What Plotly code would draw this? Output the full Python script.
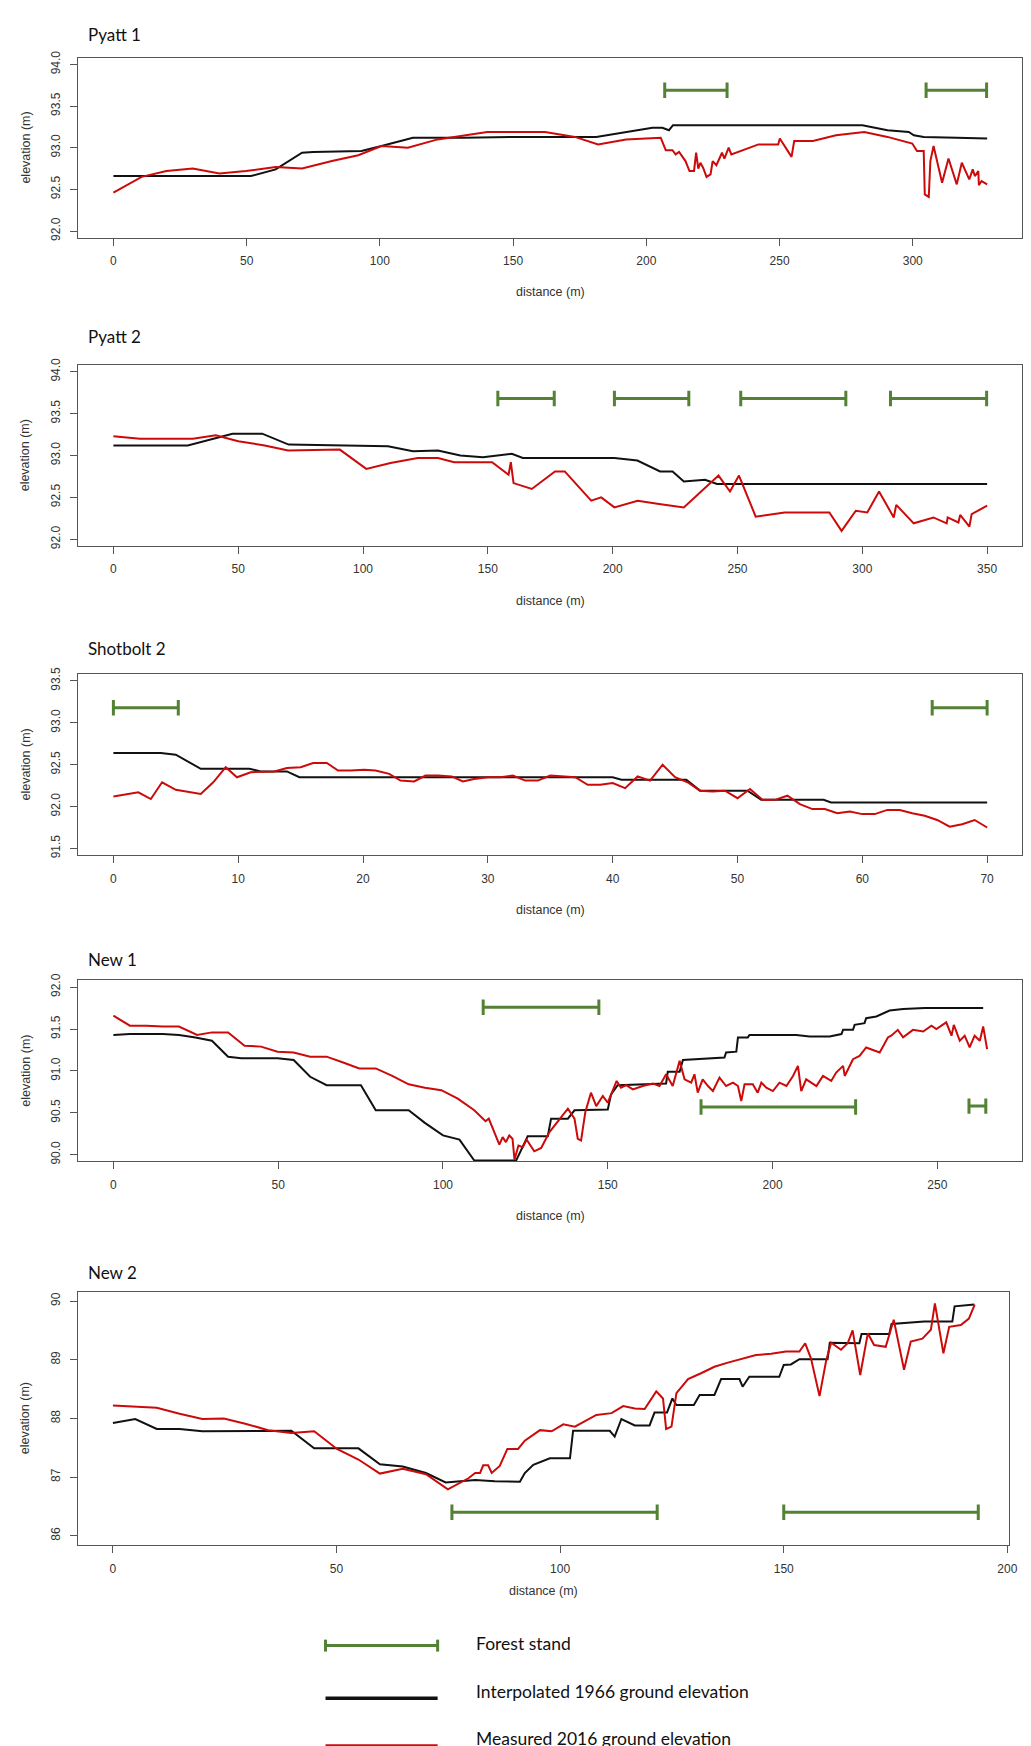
import plotly.graph_objects as go

# ---- data (distance m, elevation m) ----
pyatt1_x_1966 = [0, 51.6, 60.9, 70.8, 74.9, 93.1, 100.6, 112.4, 131.6, 153.9, 181.2, 202.3, 206, 208.5, 210,
                 281.1, 290.5, 298.5, 300.4, 304.1, 316.5, 327.9]
pyatt1_y_1966 = [92.66, 92.66, 92.74, 92.94, 92.95, 92.96, 93.02, 93.12, 93.12, 93.13, 93.13, 93.24, 93.24, 93.21, 93.27,
                 93.27, 93.21, 93.19, 93.15, 93.13, 93.12, 93.11]
pyatt1_x_2016 = [0, 10.6, 19.9, 29.8, 39.8, 49.7, 60.9, 70.8, 82, 91.9, 100.6, 110.5, 121.7, 131.6, 140.3, 162,
                 173.2, 181.9, 192.4, 205.4, 207.3, 209.8, 211, 212.3, 214.7, 216.2, 217.9, 218.7, 219.5, 220.3,
                 221.3, 222.6, 224.1, 224.9, 226.3, 228.4, 229.3, 230.9, 231.9, 242.1, 249.5, 250.1, 254.5, 255.5,
                 262.5, 271.2, 281.8, 290.5, 299.8, 301.6, 304.1, 304.5, 306, 306.6, 307.8, 311, 313.4, 316.5,
                 318.4, 321.2, 322.5, 323.3, 324.6, 324.8, 325.8, 327.9]
pyatt1_y_2016 = [92.46, 92.65, 92.72, 92.75, 92.69, 92.72, 92.77, 92.75, 92.84, 92.91, 93.02, 93.00, 93.10, 93.15,
                 93.19, 93.19, 93.13, 93.04, 93.10, 93.12, 92.97, 92.97, 92.92, 92.95, 92.84, 92.72, 92.72, 92.94,
                 92.75, 92.82, 92.76, 92.65, 92.68, 92.84, 92.79, 92.94, 92.87, 93.00, 92.92, 93.04, 93.04, 93.11,
                 92.89, 93.08, 93.08, 93.15, 93.19, 93.13, 93.05, 92.96, 92.96, 92.44, 92.41, 92.84, 93.02, 92.58,
                 92.87, 92.56, 92.82, 92.62, 92.74, 92.66, 92.72, 92.55, 92.60, 92.56]
pyatt1_stands = [(206.9, 230.3), (305, 327.7)]
pyatt1_stand_y = 93.69

pyatt2_x_1966 = [0, 29.8, 47.7, 59.6, 70.2, 100, 110, 120, 130, 139, 148, 159.6, 164, 200.7, 209.9, 219, 224,
                 228.5, 237, 241.8, 350]
pyatt2_y_1966 = [93.12, 93.12, 93.26, 93.26, 93.13, 93.12, 93.11, 93.05, 93.06, 93.00, 92.98, 93.02, 92.97, 92.97,
                 92.94, 92.81, 92.81, 92.69, 92.71, 92.66, 92.66]
pyatt2_x_2016 = [0, 10.6, 31.8, 41, 50, 60.6, 70, 90.7, 101.3, 111, 121.9, 130, 136.5, 151.7, 158.3, 159.2, 160.3,
                 167.6, 176.9, 180.8, 191.4, 195.4, 200.7, 210, 218.6, 228.5, 242.4, 247, 250.6, 257.3, 268.9,
                 286.8, 291.7, 297.4, 302, 306.7, 312.6, 313.6, 320.6, 328.5, 333.8, 334.2, 338.5, 339.2, 342.9,
                 343.8, 350]
pyatt2_y_2016 = [93.23, 93.20, 93.20, 93.24, 93.17, 93.12, 93.06, 93.07, 92.84, 92.91, 92.97, 92.97, 92.92, 92.92,
                 92.77, 92.92, 92.67, 92.60, 92.81, 92.81, 92.46, 92.50, 92.38, 92.46, 92.42, 92.38, 92.76, 92.57,
                 92.76, 92.27, 92.32, 92.32, 92.10, 92.34, 92.32, 92.57, 92.26, 92.41, 92.19, 92.26, 92.19, 92.26,
                 92.20, 92.29, 92.15, 92.30, 92.40]
pyatt2_stands = [(154, 176.6), (200.7, 230.5), (251.3, 293.4), (311.3, 349.8)]
pyatt2_stand_y = 93.68

shotbolt2_x_1966 = [0, 3.8, 5, 7, 10.9, 11.8, 13.9, 14.9, 40, 40.7, 45.9, 47, 50.8, 51.9, 56.9, 57.5, 70]
shotbolt2_y_1966 = [92.64, 92.64, 92.62, 92.45, 92.45, 92.42, 92.42, 92.35, 92.35, 92.32, 92.32, 92.19, 92.19,
                    92.08, 92.08, 92.05, 92.05]
shotbolt2_x_2016 = [0, 2, 3, 3.9, 5, 7, 8, 9, 9.9, 11, 12.9, 13.9, 15, 16, 17.1, 18, 19, 20.1, 21, 22.1, 23, 24.1,
                    25, 26, 27.1, 28, 28.9, 30, 31, 32, 33, 34, 35, 36, 37, 38, 39, 40, 41, 42, 43, 44, 45, 46, 47,
                    48, 49, 50, 51, 52, 53, 54, 55, 56, 57, 58, 59, 60, 61, 62, 63, 64, 65, 66, 67, 68, 69, 70]
shotbolt2_y_2016 = [92.12, 92.17, 92.09, 92.29, 92.20, 92.15, 92.29, 92.47, 92.35, 92.41, 92.42, 92.46, 92.47,
                    92.52, 92.52, 92.43, 92.43, 92.44, 92.43, 92.39, 92.31, 92.30, 92.37, 92.37, 92.36, 92.30,
                    92.33, 92.35, 92.35, 92.37, 92.31, 92.31, 92.37, 92.36, 92.35, 92.26, 92.26, 92.28, 92.22,
                    92.36, 92.31, 92.50, 92.35, 92.29, 92.19, 92.18, 92.19, 92.10, 92.21, 92.08, 92.08, 92.13,
                    92.03, 91.97, 91.97, 91.92, 91.94, 91.91, 91.91, 91.96, 91.96, 91.92, 91.89, 91.84, 91.76,
                    91.79, 91.84, 91.75]
shotbolt2_stands = [(0, 5.2), (65.6, 70)]
shotbolt2_stand_y = 93.18

new1_x_1966 = [0, 5, 15, 19.9, 24.9, 29.9, 34.8, 38.8, 49.8, 54.7, 59.7, 64.7, 75.1, 79.6, 89.6, 94.5, 100, 105,
               109.5, 122.2, 125.7, 131.8, 132.8, 137.9, 139.9, 150, 151, 153, 167.7, 168.2, 171.8,
               172.8, 185.4, 185.9, 189, 189.5, 192.5, 193, 207.2, 211.2, 217.3, 220.9, 221.4, 224.4, 224.9,
               227.9, 228.4, 231.5, 235.5, 239.6, 246.2, 263.9]
new1_y_1966 = [91.43, 91.44, 91.44, 91.43, 91.40, 91.36, 91.17, 91.15, 91.15, 91.13, 90.93, 90.83, 90.83, 90.53,
               90.53, 90.38, 90.23, 90.18, 89.93, 89.93, 90.22, 90.22, 90.43, 90.43, 90.53, 90.54,
               90.72, 90.83, 90.85, 90.99, 90.99, 91.13, 91.16, 91.22, 91.23, 91.40, 91.40, 91.43, 91.43, 91.41,
               91.41, 91.44, 91.49, 91.49, 91.55, 91.57, 91.63, 91.65, 91.72, 91.74, 91.75, 91.75]
new1_x_2016 = [0, 5, 10, 15, 19.9, 25.4, 29.9, 34.8, 39.8, 44.8, 49.8, 54.7, 59.7, 64.7, 69.7, 74.6, 79.6, 84.6,
               89.6, 94.5, 99.5, 104.5, 109.5, 112.9, 113.9, 115.4, 117.1, 118.1, 119.1, 120.1, 121.1, 121.7,
               122.9, 124.2, 125.4, 127.7, 129.8, 132.3, 134.3, 137.9, 139.9, 140.9, 141.9, 143.2, 144.9, 146.5,
               148.5, 150, 152.7, 154, 155.6, 157.6, 160.6, 163.7, 165.7, 167.7, 169.7, 171.8, 173.3, 175.3,
               176.3, 177.3, 178.8, 180.4, 181.9, 183.9, 185.9, 188, 189.5, 190.5, 191.5, 194, 195.5, 196.6,
               198.1, 200.1, 202.1, 204.2, 206.2, 207.7, 208.7, 210.2, 213.3, 215.3, 217.8, 219.3, 221.4, 221.9,
               224.4, 226.4, 228.4, 232.5, 235, 236, 238, 239.6, 242.6, 245.7, 248.2, 249.7, 252.7, 254.3, 255,
               256.8, 258.3, 259.8, 261.3, 262.9, 263.9, 265.1]
new1_y_2016 = [91.66, 91.54, 91.54, 91.53, 91.53, 91.43, 91.46, 91.46, 91.30, 91.29, 91.23, 91.22, 91.17, 91.17,
               91.10, 91.03, 91.03, 90.94, 90.84, 90.80, 90.77, 90.67, 90.53, 90.40, 90.43, 90.29, 90.12, 90.21,
               90.15, 90.23, 90.19, 89.94, 90.11, 90.09, 90.18, 90.04, 90.08, 90.27, 90.37, 90.55, 90.43, 90.19,
               90.17, 90.51, 90.74, 90.58, 90.70, 90.62, 90.88, 90.80, 90.83, 90.78, 90.82, 90.85, 90.82, 90.96,
               90.82, 91.12, 90.90, 90.86, 90.96, 90.74, 90.90, 90.82, 90.76, 90.92, 90.82, 90.86, 90.82, 90.64,
               90.84, 90.84, 90.74, 90.86, 90.80, 90.76, 90.86, 90.82, 90.94, 91.06, 90.76, 90.90, 90.82, 90.94,
               90.88, 90.98, 91.06, 90.94, 91.14, 91.18, 91.28, 91.22, 91.40, 91.42, 91.49, 91.40, 91.49, 91.47,
               91.54, 91.50, 91.58, 91.42, 91.55, 91.36, 91.42, 91.28, 91.42, 91.36, 91.53, 91.26]
new1_stands = [(112.2, 147.3), (178.3, 225.2), (259.6, 264.7)]
new1_stand_y = [91.76, 90.57, 90.58]

new2_x_1966 = [0, 5, 9.8, 14.9, 20, 28.1, 39.9, 45, 54.9, 59.7, 64.8, 70, 74.4, 81, 85.4, 91, 92.1, 94, 97.7,
               102.2, 102.9, 111.1, 112.2, 113.7, 116.7, 120, 121.1, 123.9, 125.1, 126, 129.9, 131.2, 134.5, 136,
               140.1, 140.8, 142.3, 149, 150, 151.6, 153.5, 159.8, 160.3, 166.9, 167.4, 173.6, 174.1, 181.4,
               187.7, 188.2, 190.3, 192.6]
new2_y_1966 = [87.92, 87.99, 87.82, 87.82, 87.78, 87.78, 87.79, 87.49, 87.49, 87.22, 87.18, 87.07, 86.91, 86.95,
               86.93, 86.92, 87.07, 87.21, 87.32, 87.32, 87.79, 87.79, 87.69, 87.99, 87.88, 87.88, 88.10, 88.10,
               88.34, 88.23, 88.23, 88.40, 88.40, 88.67, 88.67, 88.54, 88.71, 88.71, 88.91, 88.92, 89.01, 89.01,
               89.29, 89.28, 89.44, 89.44, 89.61, 89.65, 89.65, 89.91, 89.93, 89.94]
new2_x_2016 = [0, 5, 9.8, 14.9, 20, 24.8, 29.6, 34.7, 39.9, 45, 50.1, 54.9, 59.7, 64.8, 70, 74.9, 79.5, 81, 82.1,
               82.8, 83.9, 84.7, 86.5, 88.2, 90.6, 92.1, 94, 95.5, 98.1, 100.7, 103.3, 105.5, 108.1, 111.5, 114.1,
               116.7, 118.9, 121.5, 123, 123.7, 124.9, 126, 128.6, 131.5, 134.5, 137.5, 140.5, 143.8, 147.2,
               150.5, 153.5, 154.8, 156.1, 158, 159.5, 160.6, 162.8, 164.3, 165.4, 167.1, 168.8, 170.2, 172.8,
               174.6, 176.9, 178.4, 181, 182.9, 183.8, 185.7, 187, 189.6, 191.4, 192.7]
new2_y_2016 = [88.22, 88.20, 88.18, 88.08, 87.99, 88.00, 87.91, 87.80, 87.75, 87.78, 87.48, 87.30, 87.06, 87.14,
               87.05, 86.79, 86.98, 87.07, 87.07, 87.20, 87.20, 87.07, 87.19, 87.48, 87.48, 87.62, 87.72, 87.80,
               87.78, 87.90, 87.86, 87.95, 88.06, 88.09, 88.21, 88.17, 88.16, 88.46, 88.34, 87.82, 87.86, 88.43,
               88.67, 88.77, 88.88, 88.95, 89.01, 89.08, 89.10, 89.14, 89.14, 89.28, 89.02, 88.38, 88.99, 89.29,
               89.17, 89.28, 89.50, 88.74, 89.45, 89.25, 89.22, 89.68, 88.83, 89.31, 89.36, 89.51, 89.96, 89.11,
               89.56, 89.59, 89.70, 89.94]
new2_stands = [(75.8, 121.7), (150, 193.5)]
new2_stand_y = 86.40

panel_names = ["Pyatt 1", "Pyatt 2", "Shotbolt 2", "New 1", "New 2"]
legend_labels = ["Forest stand", "Interpolated 1966 ground elevation", "Measured 2016 ground elevation"]

W, H = 1031, 1746
BLACK = "#111111"
RED = "#cc0a0a"
GREEN = "#548235"
BOX = "#555555"


def px_x(p):
    return p / W


def px_y(p):
    return 1 - p / H


# panel geometry in pixels: (left, right, top, bottom)
boxes = [(71, 1022, 43, 224), (71, 1022, 352, 534), (71, 1022, 663, 845),
         (71, 1022, 971, 1153), (71, 1009, 1284, 1539)]
title_y = [20, 323, 637, 950, 1265]
xlabel_gap = [55, 55, 55, 55, 46]

panels = [
    (pyatt1_x_1966, pyatt1_y_1966, pyatt1_x_2016, pyatt1_y_2016, pyatt1_stands, pyatt1_stand_y, (92, 94), 0.5, 50),
    (pyatt2_x_1966, pyatt2_y_1966, pyatt2_x_2016, pyatt2_y_2016, pyatt2_stands, pyatt2_stand_y, (92, 94), 0.5, 50),
    (shotbolt2_x_1966, shotbolt2_y_1966, shotbolt2_x_2016, shotbolt2_y_2016, shotbolt2_stands, shotbolt2_stand_y,
     (91.5, 93.5), 0.5, 10),
    (new1_x_1966, new1_y_1966, new1_x_2016, new1_y_2016, new1_stands, new1_stand_y, (90, 92), 0.5, 50),
    (new2_x_1966, new2_y_1966, new2_x_2016, new2_y_2016, new2_stands, new2_stand_y, (86, 90), 1, 50),
]

fig = go.Figure()
annotations = []
shapes = []
tick_font = dict(family="Liberation Sans, Arial", size=12, color="#333333")

for i, (x66, y66, x16, y16, stands, stand_y, ylim, ydt, xdt) in enumerate(panels):
    n = i + 1
    xa = "x" if n == 1 else f"x{n}"
    ya = "y" if n == 1 else f"y{n}"

    # R style 4% padding
    xmax = max(max(x66), max(x16))
    xpad = 0.04 * xmax
    ypad = 0.04 * (ylim[1] - ylim[0])

    fig.add_trace(go.Scatter(x=x66, y=y66, mode="lines", line=dict(color=BLACK, width=2),
                             xaxis=xa, yaxis=ya, showlegend=False))
    fig.add_trace(go.Scatter(x=x16, y=y16, mode="lines", line=dict(color=RED, width=2),
                             xaxis=xa, yaxis=ya, showlegend=False))

    levels = stand_y if isinstance(stand_y, list) else [stand_y] * len(stands)
    for (s0, s1), lv in zip(stands, levels):
        fig.add_trace(go.Scatter(x=[s0, s1], y=[lv, lv], mode="lines+markers",
                                 line=dict(color=GREEN, width=3),
                                 marker=dict(symbol="line-ns", size=11, line=dict(color=GREEN, width=3)),
                                 xaxis=xa, yaxis=ya, showlegend=False))

    l, r, t, b = boxes[i]
    fig.update_layout(**{
        ("xaxis" if n == 1 else f"xaxis{n}"): dict(
            domain=[px_x(l), px_x(r)], anchor=ya, range=[-xpad, xmax + xpad],
            tick0=0, dtick=xdt, ticks="outside", ticklen=7, tickcolor=BOX,
            showline=True, mirror=True, linecolor=BOX, linewidth=1.2,
            showgrid=False, zeroline=False, tickfont=tick_font, ticklabelstandoff=5),
        ("yaxis" if n == 1 else f"yaxis{n}"): dict(
            domain=[px_y(b), px_y(t)], anchor=xa, range=[ylim[0] - ypad, ylim[1] + ypad],
            tick0=ylim[0], dtick=ydt, tickformat=".1f" if ydt < 1 else "d",
            ticks="outside", ticklen=7, tickcolor=BOX, tickangle=-90,
            showline=True, mirror=True, linecolor=BOX, linewidth=1.2,
            showgrid=False, zeroline=False, tickfont=tick_font, ticklabelstandoff=6),
    })

    annotations.append(dict(text=panel_names[i], x=px_x(79), y=px_y(title_y[i]), xref="paper", yref="paper",
                            xanchor="left", yanchor="middle", showarrow=False,
                            font=dict(family="Lato", size=17, color="#111111")))
    annotations.append(dict(text="elevation (m)", x=px_x(18), y=px_y((t + b) / 2), xref="paper", yref="paper",
                            xanchor="center", yanchor="middle", textangle=-90, showarrow=False,
                            font=dict(family="Liberation Sans, Arial", size=12.5, color="#333333")))
    annotations.append(dict(text="distance (m)", x=px_x((l + r) / 2), y=px_y(b + xlabel_gap[i]),
                            xref="paper", yref="paper", xanchor="center", yanchor="middle", showarrow=False,
                            font=dict(family="Liberation Sans, Arial", size=12.5, color="#333333")))

# legend drawn under the panels
key_x0, key_x1 = px_x(320), px_x(433)
key_rows = [1640, 1693, 1741]
text_rows = [1638, 1686, 1733]
shapes.append(dict(type="line", xref="paper", yref="paper", x0=key_x0, x1=key_x1,
                   y0=px_y(key_rows[0]), y1=px_y(key_rows[0]), line=dict(color=GREEN, width=3)))
for kx in (key_x0, key_x1):
    shapes.append(dict(type="line", xref="paper", yref="paper", x0=kx, x1=kx,
                       y0=px_y(key_rows[0] - 6), y1=px_y(key_rows[0] + 6), line=dict(color=GREEN, width=3)))
for row, col in zip(key_rows[1:], [BLACK, RED]):
    shapes.append(dict(type="line", xref="paper", yref="paper", x0=key_x0, x1=key_x1,
                       y0=px_y(row), y1=px_y(row), line=dict(color=col, width=3.5)))
for lab, row in zip(legend_labels, text_rows):
    annotations.append(dict(text=lab, x=px_x(470), y=px_y(row), xref="paper", yref="paper",
                            xanchor="left", yanchor="middle", showarrow=False,
                            font=dict(family="Lato", size=17.5, color="#111111")))

fig.update_layout(width=W, height=H, margin=dict(l=0, r=0, t=0, b=0),
                  paper_bgcolor="white", plot_bgcolor="white",
                  annotations=annotations, shapes=shapes, showlegend=False)

fig.write_html("out.html")
